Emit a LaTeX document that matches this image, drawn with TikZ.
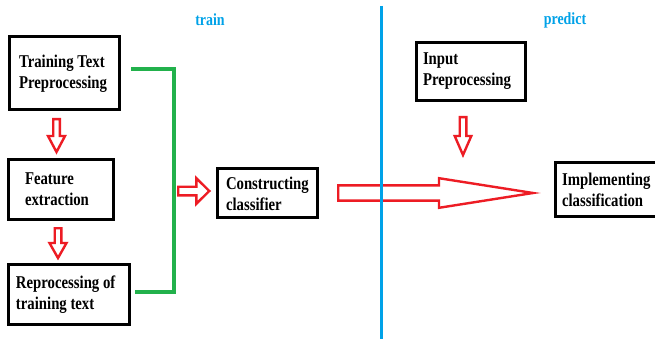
\documentclass[tikz,border=0pt]{standalone}
\usepackage{fontspec}
% tall, slightly condensed bold serif
\setmainfont{Liberation Serif}[FakeStretch=0.82]
\usetikzlibrary{calc}

\definecolor{paintred}{HTML}{ED1C24}
\definecolor{paintgreen}{HTML}{22B14C}
\definecolor{paintblue}{HTML}{00A2E8}

% hollow block arrow from #1 to #2: shaft half-width #3, head half-width #4, head length #5
\newcommand\hollowarrow[5]{%
  \draw[blockarrow] let \p1=(#1), \p2=(#2),
      \n1={atan2(\y2-\y1,\x2-\x1)}, \n2={veclen(\x2-\x1,\y2-\y1)} in
    [shift={(\p1)}, rotate=\n1]
    (0,#3) -- ({\n2-#5},#3) -- ({\n2-#5},#4) -- (\n2,0)
    -- ({\n2-#5},-#4) -- ({\n2-#5},-#3) -- (0,-#3) -- cycle;}

\begin{document}
\begin{tikzpicture}[x=1pt,y=-1pt,
  box/.style={draw=black, line width=3pt, align=flush left, anchor=north west,
    inner ysep=0pt, font=\fontsize{18}{21}\selectfont\bfseries},
  blockarrow/.style={draw=paintred, line width=2.4pt, fill=white, line join=miter},
  bus/.style={draw=paintgreen, line width=3.2pt},
  divider/.style={draw=paintblue, line width=3pt},
  phase/.style={text=paintblue, font=\fontsize{17}{20}\selectfont\bfseries}]

\useasboundingbox[fill=white] (0,0) rectangle (655,339);

% phase headings
\node[phase] (train) at (210,20) {train};
\node[phase] (predict) at (565,20) {predict};

% training pipeline
\node[box, text width=91pt, inner xsep=9.5pt, minimum height=73pt] (t1) at (8,35)
  {\strut Training Text\\Preprocessing};
\node[box, text width=72pt, inner xsep=16.5pt, minimum height=60pt] (t2) at (7,158)
  {Feature\\extraction};
\node[box, text width=106pt, inner xsep=7.5pt, minimum height=60pt] (t3) at (7,263)
  {Reprocessing of\\training text};
\node[box, text width=83pt, inner xsep=8.5pt, minimum height=49pt] (c4) at (216,167)
  {\strut Constructing\\classifier};

% prediction pipeline
\node[box, text width=96pt, inner xsep=6.5pt, minimum height=58pt] (ip) at (415,41)
  {Input\\Preprocessing};
\node[box, text width=97pt, inner xsep=6.5pt, minimum height=54pt] (im) at (554,161)
  {Implementing\\classification};

% bracket joining the training steps
\draw[bus] ($(t1.east)+(10,-4)$) -- ++(43,0) |- ($(t3.east)+(4,-2.5)$);

% block arrow end points
\coordinate (a1s) at (56.5,119.2);  \coordinate (a1e) at (56.5,152);
\coordinate (a2s) at (58,228.2);    \coordinate (a2e) at (58,258);
\coordinate (a3s) at (178.2,191);   \coordinate (a3e) at (209.3,191);
\coordinate (a4s) at (463,117.2);   \coordinate (a4e) at (463,155);
\coordinate (a5s) at (338.2,193);   \coordinate (a5e) at (533,193);

\hollowarrow{a1s}{a1e}{3.3}{8.5}{16}
\hollowarrow{a2s}{a2e}{3.3}{8.5}{15}
\hollowarrow{a3s}{a3e}{4.3}{12.8}{13}
\hollowarrow{a4s}{a4e}{3.3}{8.3}{19}
\hollowarrow{a5s}{a5e}{7.6}{14.8}{94}

% train / predict divider
\coordinate (dtop) at (381,6);
\coordinate (dbot) at (381,345);
\draw[divider] (dtop) -- (dbot);

\end{tikzpicture}
\end{document}
